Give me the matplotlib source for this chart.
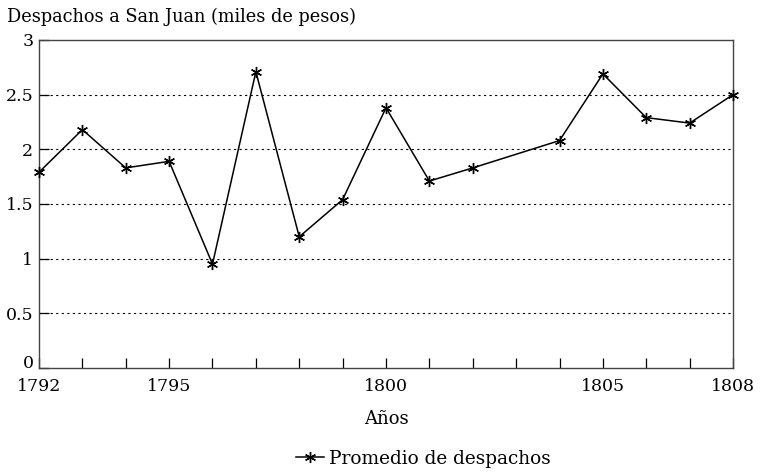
import matplotlib.pyplot as plt

plt.rcParams['font.family'] = ['DejaVu Serif']

years = [1792, 1793, 1794, 1795, 1796, 1797, 1798, 1799, 1800,
         1801, 1802, 1804, 1805, 1806, 1807, 1808]
despachos = [1.79, 2.18, 1.83, 1.89, 0.95, 2.71, 1.20, 1.54, 2.38,
             1.71, 1.83, 2.08, 2.69, 2.29, 2.24, 2.50]
xticks = list(range(1792, 1809))
xlabels = ['1792', '1795', '1800', '1805', '1808']
yticks = [0, 0.5, 1, 1.5, 2, 2.5, 3]
ylabels = ['0', '0.5', '1', '1.5', '2', '2.5', '3']

fig = plt.figure(figsize=(7.6, 4.75), dpi=100)
ax = fig.add_axes([0.0513, 0.2253, 0.9132, 0.6905])

asterisk = (6, 2, 0)
ax.plot(years, despachos, color='k', linewidth=1.1, marker=asterisk,
        markersize=8, markeredgewidth=1.0, label='Promedio de despachos',
        clip_on=False, zorder=3)

ax.set_xlim(1792, 1808)
ax.set_ylim(0, 3)

ax.set_xticks(xticks)
ax.set_xticklabels([str(y) if str(y) in xlabels else '' for y in xticks])
ax.set_yticks(yticks)
ax.set_yticklabels(ylabels)

for y in yticks[1:-1]:
    ax.axhline(y, color='k', linewidth=0.8, linestyle=(0, (2, 3)), zorder=1)

for s in ax.spines.values():
    s.set_color('#444444')
    s.set_linewidth(1.0)

ax.tick_params(axis='both', direction='in', length=7, width=0.9,
               color='k', labelsize=12.5)
ax.tick_params(axis='x', pad=7)
ax.tick_params(axis='y', pad=4)
# sit the "0" on the axis line so it clears "1792"
ax.get_yticklabels()[0].set_va('baseline')

ax.set_xlabel('Años', fontsize=13, labelpad=11)
fig.text(0.009, 0.965, 'Despachos a San Juan (miles de pesos)',
         fontsize=12.8, ha='left', va='center')

fig.legend(loc='lower center', bbox_to_anchor=(0.557, -0.02), frameon=False,
           fontsize=13.3, handlelength=1.5, handletextpad=0.3)

fig.savefig('out.png', dpi=100)
